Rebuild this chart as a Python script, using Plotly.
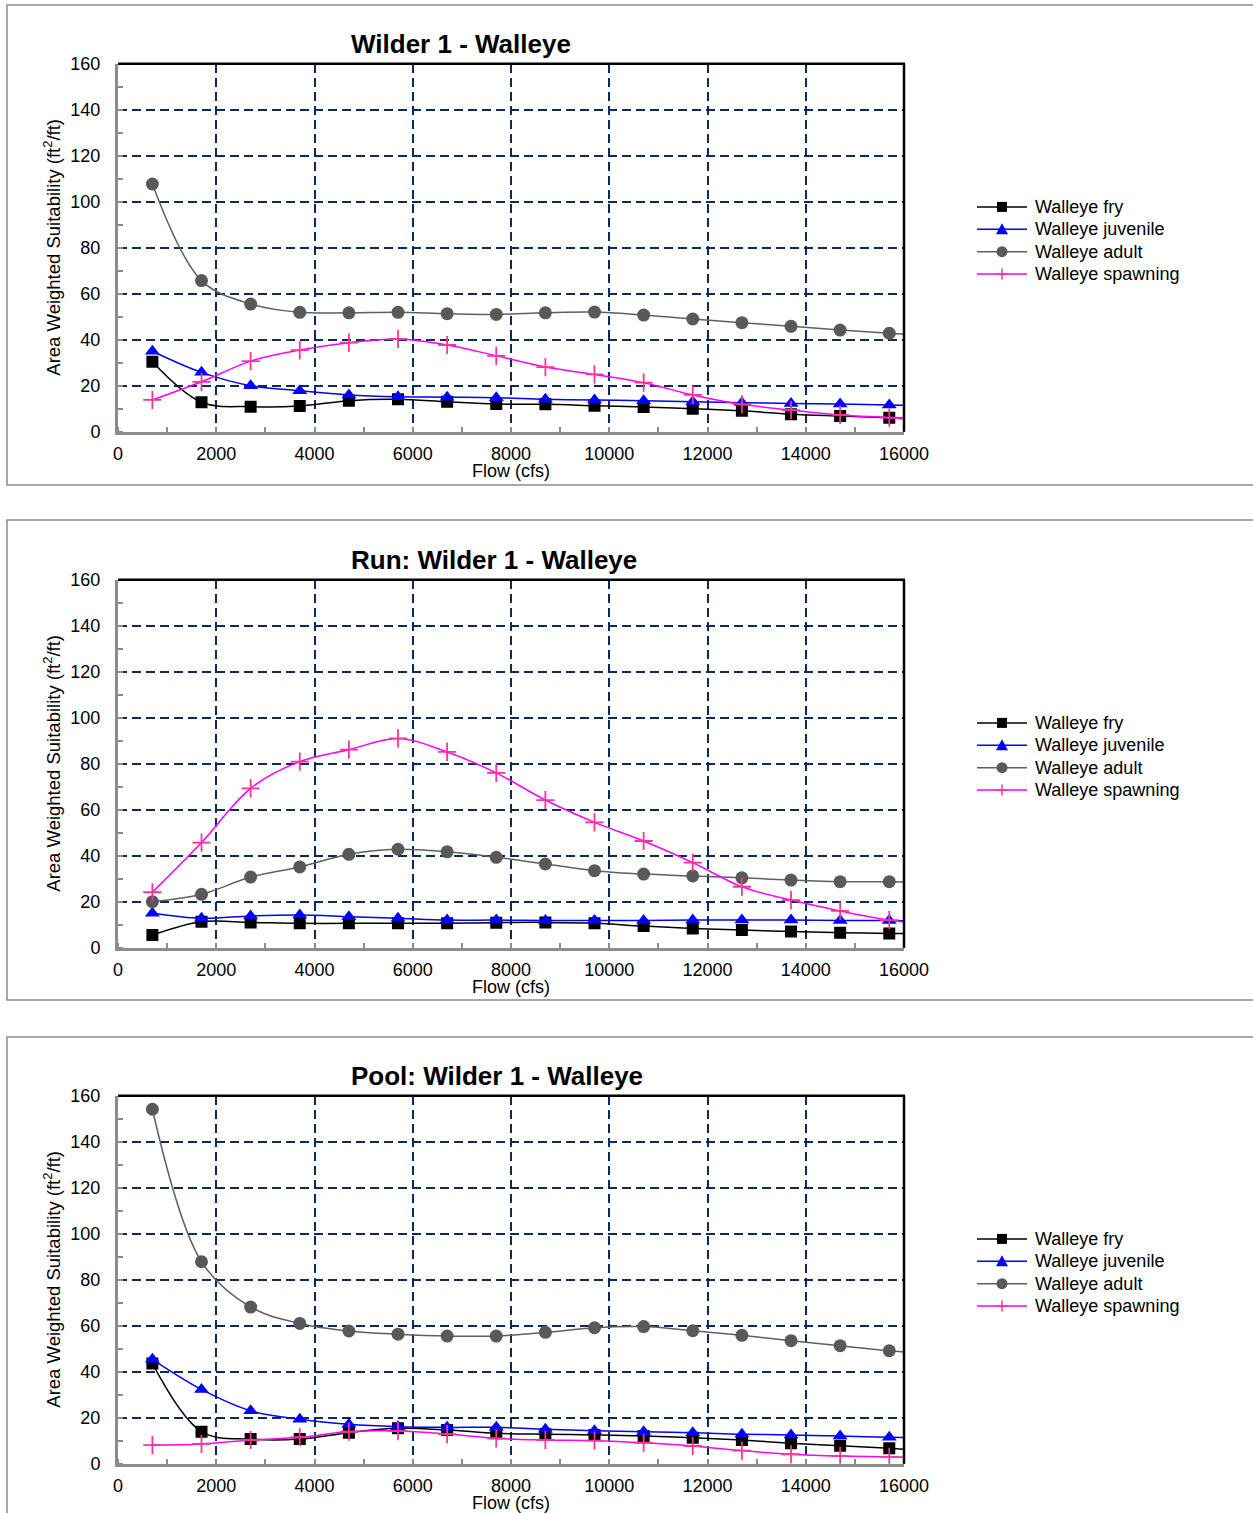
import plotly.graph_objects as go

W, H = 1253, 1513

flow = [700, 1700, 2700, 3700, 4700, 5700, 6700, 7700, 8700, 9700,
        10700, 11700, 12700, 13700, 14700, 15700, 16700]

series_names = ["Walleye fry", "Walleye juvenile", "Walleye adult", "Walleye spawning"]

# Panel 1: Wilder 1 - Walleye
p1_fry = [30.4, 12.8, 10.9, 11.2, 13.5, 14.1, 13.0, 12.0, 11.9, 11.3, 10.7, 10.0, 9.1, 7.6, 6.8, 6.1, 5.0]
p1_juv = [35.0, 25.8, 20.0, 17.8, 16.0, 15.2, 15.0, 14.8, 14.1, 13.8, 13.5, 13.0, 12.6, 12.3, 12.0, 11.6, 11.2]
p1_adult = [107.7, 65.7, 55.5, 51.9, 51.7, 51.9, 51.3, 51.0, 51.7, 52.0, 50.7, 49.0, 47.4, 45.8, 44.2, 42.8, 41.4]
p1_spawn = [13.8, 21.7, 30.7, 35.5, 38.7, 40.3, 37.7, 33.0, 28.1, 24.9, 21.3, 16.0, 11.9, 9.4, 7.3, 6.1, 4.6]

# Panel 2: Run: Wilder 1 - Walleye
p2_fry = [5.5, 11.3, 11.0, 10.6, 10.6, 10.6, 10.6, 10.9, 11.0, 10.6, 9.4, 8.4, 7.7, 7.0, 6.5, 6.2, 6.0]
p2_juv = [15.0, 12.8, 13.8, 14.2, 13.5, 12.8, 12.0, 12.0, 11.8, 11.8, 11.8, 12.0, 12.0, 12.0, 11.8, 11.8, 11.6]
p2_adult = [20.0, 23.2, 30.7, 35.1, 40.6, 42.8, 41.7, 39.3, 36.4, 33.5, 32.0, 31.2, 30.4, 29.4, 28.7, 28.7, 28.2]
p2_spawn = [24.1, 45.7, 69.3, 80.9, 86.1, 91.0, 85.1, 76.0, 64.2, 54.5, 46.4, 37.0, 26.5, 20.7, 16.0, 12.0, 9.8]

# Panel 3: Pool: Wilder 1 - Walleye
p3_fry = [43.6, 13.9, 10.7, 10.7, 13.5, 15.4, 14.7, 13.2, 12.8, 12.5, 12.0, 11.3, 10.3, 8.9, 7.8, 6.7, 5.3]
p3_juv = [45.4, 32.3, 23.0, 19.3, 17.1, 16.1, 15.8, 15.8, 15.0, 14.3, 13.9, 13.5, 12.8, 12.5, 12.0, 11.5, 11.0]
p3_adult = [154.1, 87.8, 68.1, 61.0, 57.7, 56.3, 55.5, 55.5, 57.1, 59.1, 59.6, 57.8, 55.8, 53.5, 51.3, 49.1, 47.6]
p3_spawn = [8.1, 8.6, 10.3, 11.5, 13.9, 14.2, 12.9, 11.0, 10.3, 10.0, 9.1, 7.7, 5.7, 4.1, 3.3, 3.0, 2.5]

titles = ["Wilder 1 - Walleye", "Run: Wilder 1 - Walleye", "Pool: Wilder 1 - Walleye"]
x_ticks = [0, 2000, 4000, 6000, 8000, 10000, 12000, 14000, 16000]
y_ticks = [0, 20, 40, 60, 80, 100, 120, 140, 160]

panels = [
    [p1_fry, p1_juv, p1_adult, p1_spawn],
    [p2_fry, p2_juv, p2_adult, p2_spawn],
    [p3_fry, p3_juv, p3_adult, p3_spawn],
]

FONT = "Liberation Sans, Arial, sans-serif"
GRID = "#0B2A5E"

line_colors = ["black", "#0000FF", "#5F5F5F", "#FF00FF"]
marker_colors = ["black", "#0000FF", "#595959", "#FF3399"]

styles = [
    dict(line=dict(color=line_colors[0], width=1.5, shape="spline", smoothing=1),
         marker=dict(symbol="square", size=12, color=marker_colors[0])),
    dict(line=dict(color=line_colors[1], width=1.5, shape="spline", smoothing=1),
         marker=dict(symbol="triangle-up", size=13, color=marker_colors[1])),
    dict(line=dict(color=line_colors[2], width=1.5, shape="spline", smoothing=1),
         marker=dict(symbol="circle", size=13, color=marker_colors[2])),
    dict(line=dict(color=line_colors[3], width=1.5, shape="spline", smoothing=1),
         marker=dict(symbol="cross-thin", size=13, color=marker_colors[3],
                     line=dict(color=marker_colors[3], width=1.8))),
]

plot_left, plot_right = 118, 904
panel_y = [(63.7, 431.7), (579.7, 947.7), (1095.7, 1463.7)]
panel_box = [(5, 485), (520, 1000), (1037, 1530)]
title_y = [44, 560, 1076]
legend_mid = [240.5, 756.5, 1272.5]
leg_x0, leg_x1, leg_text = 977, 1027, 1033
leg_gap = 22.4


def px(x):
    return x / W


def py(y):
    return 1 - y / H


fig = go.Figure()
layout = dict(
    width=W, height=H,
    margin=dict(l=0, r=0, t=0, b=0),
    paper_bgcolor="white", plot_bgcolor="white",
    font=dict(family=FONT, size=18, color="black"),
    showlegend=False,
)
shapes = []
annotations = []


def legend_symbol(j, yc):
    xc = (leg_x0 + leg_x1) / 2
    out = [dict(type="line", xref="paper", yref="paper",
                x0=px(leg_x0), x1=px(leg_x1), y0=py(yc), y1=py(yc),
                line=dict(color=line_colors[j], width=1.5))]
    c = marker_colors[j]
    if j == 0:
        out.append(dict(type="rect", xref="paper", yref="paper",
                        x0=px(xc - 5), x1=px(xc + 5), y0=py(yc + 5), y1=py(yc - 5),
                        fillcolor=c, line=dict(color=c, width=0)))
    elif j == 1:
        path = "M %f,%f L %f,%f L %f,%f Z" % (px(xc), py(yc - 6), px(xc + 6), py(yc + 5),
                                               px(xc - 6), py(yc + 5))
        out.append(dict(type="path", xref="paper", yref="paper", path=path,
                        fillcolor=c, line=dict(color=c, width=0)))
    elif j == 2:
        out.append(dict(type="circle", xref="paper", yref="paper",
                        x0=px(xc - 5.5), x1=px(xc + 5.5), y0=py(yc + 5.5), y1=py(yc - 5.5),
                        fillcolor=c, line=dict(color=c, width=0)))
    else:
        out.append(dict(type="line", xref="paper", yref="paper",
                        x0=px(xc - 5.5), x1=px(xc + 5.5), y0=py(yc), y1=py(yc),
                        line=dict(color=c, width=1.5)))
        out.append(dict(type="line", xref="paper", yref="paper",
                        x0=px(xc), x1=px(xc), y0=py(yc - 5.5), y1=py(yc + 5.5),
                        line=dict(color=c, width=1.5)))
    return out


for i, data in enumerate(panels):
    n = "" if i == 0 else str(i + 1)
    xa, ya = "x" + n, "y" + n
    for j, vals in enumerate(data):
        fig.add_trace(go.Scatter(
            x=flow, y=vals, name=series_names[j], mode="lines+markers",
            xaxis=xa, yaxis=ya, cliponaxis=True, **styles[j]))
    top, bot = panel_y[i]
    layout["xaxis" + n] = dict(
        domain=[px(plot_left), px(plot_right)], anchor=ya,
        range=[0, 16000], tickvals=x_ticks, ticktext=[str(v) for v in x_ticks],
        showgrid=True, gridcolor=GRID, gridwidth=2, griddash="9px,5px",
        showline=True, linecolor="#8C8C8C", linewidth=3,
        ticks="", zeroline=False, automargin=False,
        minor=dict(dtick=1000, ticks="inside", ticklen=5, tickcolor="#8C8C8C",
                   tickwidth=1.5, showgrid=False),
        tickfont=dict(size=18, family=FONT, color="black"),
        ticklabelstandoff=4,
    )
    layout["yaxis" + n] = dict(
        domain=[py(bot), py(top)], anchor=xa,
        range=[0, 160], tickvals=y_ticks, ticktext=[str(v) for v in y_ticks],
        showgrid=True, gridcolor=GRID, gridwidth=2, griddash="9px,5px",
        showline=True, linecolor="#8C8C8C", linewidth=3,
        ticks="", zeroline=False, automargin=False,
        minor=dict(dtick=10, ticks="inside", ticklen=5, tickcolor="#8C8C8C",
                   tickwidth=1.5, showgrid=False),
        tickfont=dict(size=18, family=FONT, color="black"),
        ticklabelstandoff=11,
    )
    # legend (drawn manually for exact row spacing)
    for j, name in enumerate(series_names):
        yc = legend_mid[i] + (j - 1.5) * leg_gap
        shapes.extend(legend_symbol(j, yc))
        annotations.append(dict(text=name, xref="paper", yref="paper",
                                x=px(leg_text), y=py(yc), xanchor="left", yanchor="middle",
                                showarrow=False, font=dict(size=18, family=FONT, color="black")))
    shapes.append(dict(type="line", xref="paper", yref="paper",
                       x0=px(plot_left), x1=px(plot_right) + 1.0 / W,
                       y0=py(top), y1=py(top), line=dict(color="black", width=2.5),
                       layer="above"))
    shapes.append(dict(type="line", xref="paper", yref="paper",
                       x0=px(plot_right), x1=px(plot_right),
                       y0=py(top), y1=py(bot), line=dict(color="black", width=2.5),
                       layer="above"))
    b0, b1 = panel_box[i]
    shapes.append(dict(type="rect", xref="paper", yref="paper",
                       x0=px(7), x1=px(1270), y0=py(b1), y1=py(b0),
                       line=dict(color="#8C8C8C", width=1.5), layer="below"))
    annotations.append(dict(text="<b>" + titles[i] + "</b>", xref="paper", yref="paper",
                            x=px(349), y=py(title_y[i]), xanchor="left", yanchor="middle",
                            showarrow=False, font=dict(size=26, family=FONT, color="black")))
    annotations.append(dict(text="Flow (cfs)", xref="paper", yref="paper",
                            x=px(511), y=py(bot + 39), xanchor="center", yanchor="middle",
                            showarrow=False, font=dict(size=18, family=FONT, color="black")))
    annotations.append(dict(text="Area Weighted Suitability (ft<sup>2</sup>/ft)",
                            xref="paper", yref="paper", textangle=-90,
                            x=px(52), y=py((top + bot) / 2), xanchor="center", yanchor="middle",
                            showarrow=False, font=dict(size=18.5, family=FONT, color="black")))

layout["shapes"] = shapes
layout["annotations"] = annotations
fig.update_layout(**layout)

fig.write_html("out.html", config={"displayModeBar": False},
               post_script="document.body.style.margin='0';")
